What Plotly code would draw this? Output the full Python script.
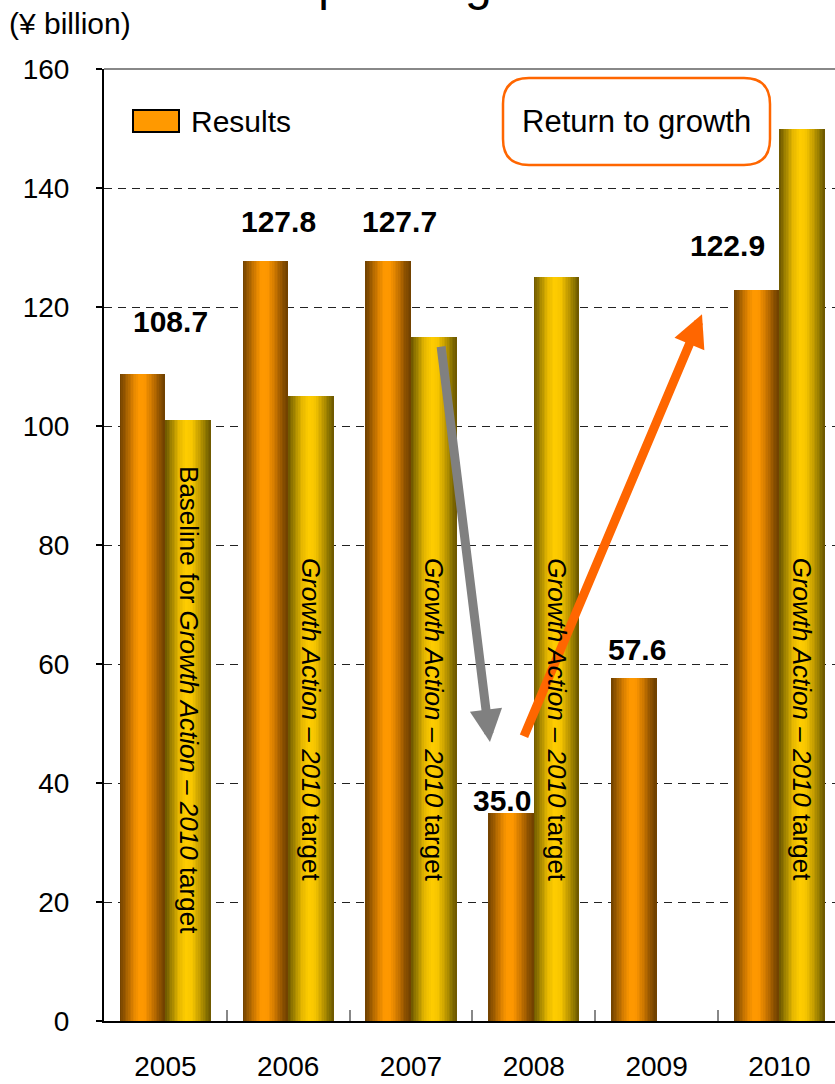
import plotly.graph_objects as go

# ---- data -------------------------------------------------------------
years = ["2005", "2006", "2007", "2008", "2009", "2010"]
results = [108.7, 127.8, 127.7, 35.0, 57.6, 122.9]          # ¥ billion
targets = [101.0, 105.0, 115.0, 125.0, None, 150.0]         # Growth Action – 2010 target
target_notes = [
    "Baseline for <i>Growth Action – 2010</i> target",
    "<i>Growth Action – 2010</i> target",
    "<i>Growth Action – 2010</i> target",
    "<i>Growth Action – 2010</i> target",
    None,
    "<i>Growth Action – 2010</i> target",
]
y_ticks = [0, 20, 40, 60, 80, 100, 120, 140, 160]

# ---- geometry / style ---------------------------------------------------
W, H = 835, 1084
ML, MT, MB, MR = 104, 69, 63, 0
PW, PH = W - ML - MR, H - MT - MB
X_RANGE = [-0.5, 5.453]
Y_RANGE = [0, 160]
FONT = "Liberation Sans, Arial, Helvetica, sans-serif"

ORANGE_STOPS = [(0.0, "#6e4000"), (0.12, "#9a5a00"), (0.30, "#e08400"), (0.42, "#ff9900"),
                (0.55, "#fc9600"), (0.72, "#c87400"), (0.88, "#8a5000"), (1.0, "#6e4000")]
YELLOW_STOPS = [(0.0, "#6b5500"), (0.12, "#9c7f00"), (0.30, "#e6b800"), (0.45, "#ffcc00"),
                (0.58, "#f7c600"), (0.75, "#c29b00"), (0.90, "#857000"), (1.0, "#6b5500")]


def hex2rgb(h):
    h = h.lstrip("#")
    return tuple(int(h[i:i + 2], 16) for i in (0, 2, 4))


def sample(stops, t):
    for (t0, c0), (t1, c1) in zip(stops[:-1], stops[1:]):
        if t0 <= t <= t1:
            f = 0 if t1 == t0 else (t - t0) / (t1 - t0)
            a, b = hex2rgb(c0), hex2rgb(c1)
            return "rgb(%d,%d,%d)" % tuple(round(a[i] + (b[i] - a[i]) * f) for i in range(3))
    return stops[-1][1]


def px2paper(px, py):
    return (px - ML) / PW, (H - MB - py) / PH


fig = go.Figure()

# cylinder-shaded bars: each bar is built from narrow vertical strips
N_STRIPS = 28
BAR_W = 0.372


def add_shaded_bars(values, start_offset, stops):
    dw = BAR_W / N_STRIPS
    for k in range(N_STRIPS):
        t = (k + 0.5) / N_STRIPS
        w = dw * 1.35 if k < N_STRIPS - 1 else dw
        fig.add_trace(go.Bar(
            x=list(range(len(years))), y=values,
            offset=start_offset + k * dw, width=w,
            marker=dict(color=sample(stops, t), line=dict(width=0)),
            showlegend=False, hoverinfo="skip",
        ))


add_shaded_bars(results, -BAR_W, ORANGE_STOPS)
add_shaded_bars(targets, 0.0, YELLOW_STOPS)

annotations = []
shapes = []

# arrows: fall in 2008, return to growth afterwards
annotations.append(dict(x=2.643, y=46.9, ax=2.244, ay=113.6, xref="x", yref="y",
                        axref="x", ayref="y", text="", showarrow=True, arrowhead=2,
                        arrowsize=0.72, arrowwidth=9, arrowcolor="#808080", standoff=0))
annotations.append(dict(x=4.37, y=118.8, ax=2.915, ay=47.6, xref="x", yref="y",
                        axref="x", ayref="y", text="", showarrow=True, arrowhead=2,
                        arrowsize=0.72, arrowwidth=9, arrowcolor="#ff6600", standoff=0))

# value labels for results
label_pos = [(0.042, 8.8), (0.917, 6.5), (1.910, 6.6), (2.741, 2.1), (3.844, 4.8), (4.581, 7.4)]
for v, (lx, dy) in zip(results, label_pos):
    annotations.append(dict(x=lx, y=v + dy, xref="x", yref="y", text="%.1f" % v,
                            showarrow=False, xanchor="center", yanchor="middle",
                            font=dict(family=FONT, size=30, color="black", weight="bold")))

# vertical captions inside the target bars
for i, (v, note) in enumerate(zip(targets, target_notes)):
    if v is None or note is None:
        continue
    cy = 53.9 if i == 0 else 50.6
    annotations.append(dict(x=i + BAR_W / 2, y=cy, xref="x", yref="y", text=note,
                            showarrow=False, textangle=90, xanchor="center", yanchor="middle",
                            font=dict(family=FONT, size=26, color="black")))

# legend swatch + label
sx0, sy0 = px2paper(133, 132)
sx1, sy1 = px2paper(179, 110)
shapes.append(dict(type="rect", xref="paper", yref="paper", x0=sx0, y0=sy0, x1=sx1, y1=sy1,
                   fillcolor="#ff9900", line=dict(color="black", width=2), layer="above"))
lx, ly = px2paper(189, 121)
annotations.append(dict(x=lx, y=ly, xref="paper", yref="paper", text="Results",
                        showarrow=False, xanchor="left", yanchor="middle",
                        font=dict(family=FONT, size=30, color="black")))

# rounded callout box
bx0, by0, bx1, by1, r = 503, 78, 770, 165, 26


def rounded_path(x0, y0, x1, y1, r):
    def p(x, y):
        a, b = px2paper(x, y)
        return "%.5f,%.5f" % (a, b)
    return ("M" + p(x0 + r, y0) + " L" + p(x1 - r, y0) + " Q" + p(x1, y0) + " " + p(x1, y0 + r) +
            " L" + p(x1, y1 - r) + " Q" + p(x1, y1) + " " + p(x1 - r, y1) +
            " L" + p(x0 + r, y1) + " Q" + p(x0, y1) + " " + p(x0, y1 - r) +
            " L" + p(x0, y0 + r) + " Q" + p(x0, y0) + " " + p(x0 + r, y0) + " Z")


shapes.append(dict(type="path", xref="paper", yref="paper", path=rounded_path(bx0, by0, bx1, by1, r),
                   fillcolor="white", line=dict(color="#ff6600", width=2.5), layer="above"))
cx, cy = px2paper((bx0 + bx1) / 2, (by0 + by1) / 2)
annotations.append(dict(x=cx, y=cy, xref="paper", yref="paper", text="Return to growth",
                        showarrow=False, xanchor="center", yanchor="middle",
                        font=dict(family=FONT, size=31, color="black")))

# unit label and title
ux, uy = px2paper(7, 24)
annotations.append(dict(x=ux, y=uy, xref="paper", yref="paper", text="(¥ billion)",
                        showarrow=False, xanchor="left", yanchor="middle",
                        font=dict(family=FONT, size=30, color="black")))
tx, ty = px2paper(472, 12)
annotations.append(dict(x=tx, y=ty, xref="paper", yref="paper", text="Operating Income",
                        showarrow=False, xanchor="center", yanchor="bottom",
                        font=dict(family=FONT, size=48, color="black")))

# grey top frame line
shapes.append(dict(type="line", xref="paper", yref="paper", x0=0, x1=1, y0=1, y1=1,
                   line=dict(color="#888888", width=2), layer="above"))

fig.update_layout(
    width=W, height=H,
    margin=dict(l=ML, r=MR, t=MT, b=MB, autoexpand=False),
    paper_bgcolor="white", plot_bgcolor="white",
    barmode="overlay", bargap=0,
    showlegend=False,
    annotations=annotations, shapes=shapes,
    font=dict(family=FONT, color="black"),
)
fig.update_xaxes(
    range=X_RANGE, tickmode="array", tickvals=list(range(len(years))), ticktext=years,
    ticks="", showgrid=False, zeroline=False,
    showline=True, linecolor="black", linewidth=2,
    tickfont=dict(family=FONT, size=28, color="black"), ticklabelstandoff=19,
    minor=dict(tickmode="array", tickvals=[i + 0.5 for i in range(len(years))],
               ticks="inside", ticklen=11, tickwidth=2, tickcolor="#888888", showgrid=False),
)
fig.update_yaxes(
    range=Y_RANGE, tickmode="array", tickvals=y_ticks,
    showgrid=True, gridcolor="#222222", gridwidth=1, griddash="8px,6px",
    zeroline=False, showline=True, linecolor="black", linewidth=2,
    ticks="outside", ticklen=6, tickcolor="black", tickwidth=1.5,
    tickfont=dict(family=FONT, size=28, color="black"), ticklabelstandoff=21,
)

fig.write_html("out.html")
